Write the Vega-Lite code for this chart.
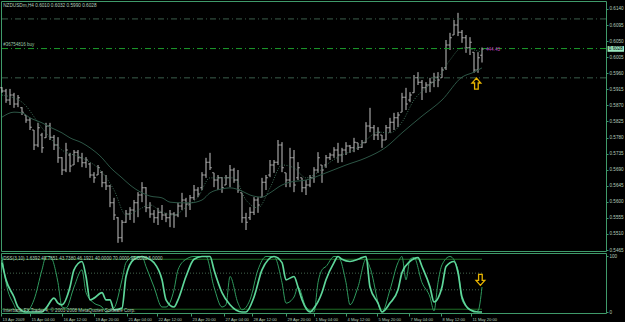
{
  "$schema": "https://vega.github.io/schema/vega-lite/v6.json",
  "background": "#000000",
  "padding": {"left": -2, "top": 0, "right": 0, "bottom": 0},
  "bounds": "flush",
  "config": {
    "view": {"stroke": "#3f9a6a", "strokeWidth": 1},
    "text": {"font": "Liberation Sans"},
    "axis": {"grid": false, "domain": false, "title": null, "labelColor": "#b5cdbd", "labelFont": "Liberation Sans", "labelFontSize": 4.6, "tickColor": "#3f9a6a", "tickSize": 2, "labelPadding": 1, "labelOverlap": false, "labelFlush": false, "labelBound": false},
    "concat": {"spacing": 2}
  },
  "datasets": {
    "bars": [
      {"i":0,"o":0.5919,"h":0.5921,"l":0.5905,"c":0.5910},
      {"i":1,"o":0.5910,"h":0.5916,"l":0.5877,"c":0.5885},
      {"i":2,"o":0.5885,"h":0.5916,"l":0.5871,"c":0.5899},
      {"i":3,"o":0.5899,"h":0.5905,"l":0.5863,"c":0.5874},
      {"i":4,"o":0.5874,"h":0.5899,"l":0.5865,"c":0.5891},
      {"i":5,"o":0.5863,"h":0.5865,"l":0.5843,"c":0.5851},
      {"i":6,"o":0.5843,"h":0.5843,"l":0.5821,"c":0.5829},
      {"i":7,"o":0.5829,"h":0.5835,"l":0.5801,"c":0.5809},
      {"i":8,"o":0.5801,"h":0.5801,"l":0.5745,"c":0.5759},
      {"i":9,"o":0.5759,"h":0.5821,"l":0.5753,"c":0.5807},
      {"i":10,"o":0.5787,"h":0.5793,"l":0.5737,"c":0.5751},
      {"i":11,"o":0.5779,"h":0.5821,"l":0.5779,"c":0.5812},
      {"i":12,"o":0.5812,"h":0.5821,"l":0.5773,"c":0.5781},
      {"i":13,"o":0.5781,"h":0.5787,"l":0.5745,"c":0.5759},
      {"i":14,"o":0.5759,"h":0.5781,"l":0.5709,"c":0.5723},
      {"i":15,"o":0.5723,"h":0.5725,"l":0.5675,"c":0.5689},
      {"i":16,"o":0.5689,"h":0.5765,"l":0.5683,"c":0.5745},
      {"i":17,"o":0.5731,"h":0.5737,"l":0.5683,"c":0.5700},
      {"i":18,"o":0.5703,"h":0.5745,"l":0.5703,"c":0.5739},
      {"i":19,"o":0.5739,"h":0.5745,"l":0.5711,"c":0.5723},
      {"i":20,"o":0.5723,"h":0.5737,"l":0.5697,"c":0.5709},
      {"i":21,"o":0.5709,"h":0.5725,"l":0.5695,"c":0.5717},
      {"i":22,"o":0.5706,"h":0.5709,"l":0.5667,"c":0.5675},
      {"i":23,"o":0.5675,"h":0.5683,"l":0.5653,"c":0.5667},
      {"i":24,"o":0.5675,"h":0.5703,"l":0.5675,"c":0.5695},
      {"i":25,"o":0.5683,"h":0.5686,"l":0.5641,"c":0.5653},
      {"i":26,"o":0.5653,"h":0.5675,"l":0.5633,"c":0.5644},
      {"i":27,"o":0.5644,"h":0.5647,"l":0.5585,"c":0.5597},
      {"i":28,"o":0.5597,"h":0.5611,"l":0.5549,"c":0.5563},
      {"i":29,"o":0.5555,"h":0.5557,"l":0.5485,"c":0.5499},
      {"i":30,"o":0.5499,"h":0.5549,"l":0.5487,"c":0.5543},
      {"i":31,"o":0.5543,"h":0.5577,"l":0.5541,"c":0.5566},
      {"i":32,"o":0.5566,"h":0.5585,"l":0.5549,"c":0.5577},
      {"i":33,"o":0.5577,"h":0.5605,"l":0.5541,"c":0.5597},
      {"i":34,"o":0.5597,"h":0.5627,"l":0.5557,"c":0.5619},
      {"i":35,"o":0.5619,"h":0.5655,"l":0.5599,"c":0.5639},
      {"i":36,"o":0.5639,"h":0.5641,"l":0.5571,"c":0.5583},
      {"i":37,"o":0.5583,"h":0.5599,"l":0.5555,"c":0.5566},
      {"i":38,"o":0.5566,"h":0.5577,"l":0.5541,"c":0.5555},
      {"i":39,"o":0.5555,"h":0.5583,"l":0.5535,"c":0.5571},
      {"i":40,"o":0.5571,"h":0.5591,"l":0.5549,"c":0.5563},
      {"i":41,"o":0.5563,"h":0.5569,"l":0.5543,"c":0.5555},
      {"i":42,"o":0.5555,"h":0.5577,"l":0.5529,"c":0.5566},
      {"i":43,"o":0.5566,"h":0.5571,"l":0.5527,"c":0.5563},
      {"i":44,"o":0.5563,"h":0.5597,"l":0.5557,"c":0.5588},
      {"i":45,"o":0.5588,"h":0.5625,"l":0.5577,"c":0.5605},
      {"i":46,"o":0.5605,"h":0.5611,"l":0.5557,"c":0.5594},
      {"i":47,"o":0.5594,"h":0.5619,"l":0.5577,"c":0.5611},
      {"i":48,"o":0.5611,"h":0.5647,"l":0.5605,"c":0.5633},
      {"i":49,"o":0.5633,"h":0.5641,"l":0.5613,"c":0.5622},
      {"i":50,"o":0.5639,"h":0.5683,"l":0.5633,"c":0.5675},
      {"i":51,"o":0.5675,"h":0.5723,"l":0.5667,"c":0.5711},
      {"i":52,"o":0.5711,"h":0.5737,"l":0.5689,"c":0.5695},
      {"i":53,"o":0.5681,"h":0.5681,"l":0.5641,"c":0.5661},
      {"i":54,"o":0.5661,"h":0.5675,"l":0.5633,"c":0.5667},
      {"i":55,"o":0.5667,"h":0.5669,"l":0.5625,"c":0.5639},
      {"i":56,"o":0.5647,"h":0.5675,"l":0.5647,"c":0.5667},
      {"i":57,"o":0.5667,"h":0.5703,"l":0.5641,"c":0.5689},
      {"i":58,"o":0.5689,"h":0.5695,"l":0.5653,"c":0.5661},
      {"i":59,"o":0.5661,"h":0.5689,"l":0.5625,"c":0.5633},
      {"i":60,"o":0.5625,"h":0.5625,"l":0.5541,"c":0.5555},
      {"i":61,"o":0.5555,"h":0.5569,"l":0.5521,"c":0.5543},
      {"i":62,"o":0.5555,"h":0.5585,"l":0.5549,"c":0.5571},
      {"i":63,"o":0.5571,"h":0.5613,"l":0.5563,"c":0.5605},
      {"i":64,"o":0.5605,"h":0.5613,"l":0.5569,"c":0.5591},
      {"i":65,"o":0.5613,"h":0.5667,"l":0.5613,"c":0.5655},
      {"i":66,"o":0.5655,"h":0.5675,"l":0.5633,"c":0.5667},
      {"i":67,"o":0.5675,"h":0.5717,"l":0.5669,"c":0.5703},
      {"i":68,"o":0.5703,"h":0.5717,"l":0.5681,"c":0.5711},
      {"i":69,"o":0.5711,"h":0.5773,"l":0.5703,"c":0.5759},
      {"i":70,"o":0.5759,"h":0.5767,"l":0.5683,"c":0.5695},
      {"i":71,"o":0.5681,"h":0.5681,"l":0.5641,"c":0.5661},
      {"i":72,"o":0.5661,"h":0.5751,"l":0.5641,"c":0.5723},
      {"i":73,"o":0.5723,"h":0.5745,"l":0.5627,"c":0.5647},
      {"i":74,"o":0.5667,"h":0.5711,"l":0.5661,"c":0.5695},
      {"i":75,"o":0.5667,"h":0.5667,"l":0.5627,"c":0.5639},
      {"i":76,"o":0.5639,"h":0.5661,"l":0.5619,"c":0.5647},
      {"i":77,"o":0.5647,"h":0.5675,"l":0.5641,"c":0.5667},
      {"i":78,"o":0.5667,"h":0.5697,"l":0.5653,"c":0.5689},
      {"i":79,"o":0.5689,"h":0.5739,"l":0.5681,"c":0.5723},
      {"i":80,"o":0.5703,"h":0.5703,"l":0.5653,"c":0.5689},
      {"i":81,"o":0.5703,"h":0.5731,"l":0.5695,"c":0.5723},
      {"i":82,"o":0.5723,"h":0.5737,"l":0.5717,"c":0.5731},
      {"i":83,"o":0.5731,"h":0.5753,"l":0.5723,"c":0.5745},
      {"i":84,"o":0.5745,"h":0.5765,"l":0.5709,"c":0.5731},
      {"i":85,"o":0.5731,"h":0.5751,"l":0.5711,"c":0.5745},
      {"i":86,"o":0.5745,"h":0.5767,"l":0.5731,"c":0.5756},
      {"i":87,"o":0.5756,"h":0.5759,"l":0.5737,"c":0.5751},
      {"i":88,"o":0.5751,"h":0.5779,"l":0.5739,"c":0.5767},
      {"i":89,"o":0.5765,"h":0.5765,"l":0.5745,"c":0.5753},
      {"i":90,"o":0.5753,"h":0.5773,"l":0.5751,"c":0.5765},
      {"i":91,"o":0.5765,"h":0.5823,"l":0.5765,"c":0.5812},
      {"i":92,"o":0.5812,"h":0.5863,"l":0.5795,"c":0.5807},
      {"i":93,"o":0.5807,"h":0.5815,"l":0.5773,"c":0.5787},
      {"i":94,"o":0.5787,"h":0.5809,"l":0.5773,"c":0.5795},
      {"i":95,"o":0.5787,"h":0.5787,"l":0.5751,"c":0.5773},
      {"i":96,"o":0.5773,"h":0.5815,"l":0.5773,"c":0.5807},
      {"i":97,"o":0.5807,"h":0.5835,"l":0.5793,"c":0.5823},
      {"i":98,"o":0.5823,"h":0.5849,"l":0.5801,"c":0.5835},
      {"i":99,"o":0.5835,"h":0.5851,"l":0.5809,"c":0.5843},
      {"i":100,"o":0.5851,"h":0.5905,"l":0.5851,"c":0.5893},
      {"i":101,"o":0.5893,"h":0.5919,"l":0.5857,"c":0.5874},
      {"i":102,"o":0.5885,"h":0.5907,"l":0.5879,"c":0.5899},
      {"i":103,"o":0.5905,"h":0.5955,"l":0.5905,"c":0.5947},
      {"i":104,"o":0.5947,"h":0.5963,"l":0.5927,"c":0.5935},
      {"i":105,"o":0.5935,"h":0.5941,"l":0.5885,"c":0.5919},
      {"i":106,"o":0.5919,"h":0.5935,"l":0.5905,"c":0.5927},
      {"i":107,"o":0.5927,"h":0.5947,"l":0.5907,"c":0.5935},
      {"i":108,"o":0.5935,"h":0.5961,"l":0.5921,"c":0.5949},
      {"i":109,"o":0.5949,"h":0.5963,"l":0.5921,"c":0.5941},
      {"i":110,"o":0.5947,"h":0.5977,"l":0.5947,"c":0.5969},
      {"i":111,"o":0.5975,"h":0.6053,"l":0.5969,"c":0.6039},
      {"i":112,"o":0.6039,"h":0.6073,"l":0.6025,"c":0.6059},
      {"i":113,"o":0.6067,"h":0.6109,"l":0.6067,"c":0.6095},
      {"i":114,"o":0.6095,"h":0.6129,"l":0.6064,"c":0.6075},
      {"i":115,"o":0.6075,"h":0.6081,"l":0.6045,"c":0.6059},
      {"i":116,"o":0.6059,"h":0.6067,"l":0.6017,"c":0.6031},
      {"i":117,"o":0.6031,"h":0.6061,"l":0.6011,"c":0.6047},
      {"i":118,"o":0.6019,"h":0.6019,"l":0.5961,"c":0.5969},
      {"i":119,"o":0.5969,"h":0.6019,"l":0.5961,"c":0.6003},
      {"i":120,"o":0.6010,"h":0.6032,"l":0.5990,"c":0.6028}
    ],
    "maSlow": [
      {"i":0,"v":0.5837},{"i":3,"v":0.5851},{"i":5,"v":0.5849},{"i":7,"v":0.5835},{"i":10,"v":0.5821},{"i":12,"v":0.5809},{"i":15,"v":0.5793},{"i":17,"v":0.5779},{"i":20,"v":0.5765},{"i":22,"v":0.5751},{"i":25,"v":0.5723},{"i":27,"v":0.5697},{"i":30,"v":0.5667},{"i":32,"v":0.5647},{"i":35,"v":0.5625},{"i":37,"v":0.5616},{"i":40,"v":0.5611},{"i":42,"v":0.5599},{"i":45,"v":0.5597},{"i":47,"v":0.5597},{"i":50,"v":0.5605},{"i":52,"v":0.5625},{"i":55,"v":0.5636},{"i":57,"v":0.5639},{"i":60,"v":0.5630},{"i":62,"v":0.5619},{"i":65,"v":0.5613},{"i":67,"v":0.5625},{"i":70,"v":0.5647},{"i":72,"v":0.5655},{"i":76,"v":0.5661},{"i":81,"v":0.5681},{"i":86,"v":0.5703},{"i":91,"v":0.5723},{"i":96,"v":0.5753},{"i":100,"v":0.5793},{"i":105,"v":0.5840},{"i":110,"v":0.5885},{"i":115,"v":0.5949},{"i":118,"v":0.5963},{"i":120,"v":0.5975}
    ],
    "maFast": [
      {"i":0,"v":0.5899},{"i":5,"v":0.5879},{"i":10,"v":0.5807},{"i":15,"v":0.5745},{"i":20,"v":0.5723},{"i":25,"v":0.5683},{"i":28,"v":0.5633},{"i":31,"v":0.5563},{"i":34,"v":0.5577},{"i":37,"v":0.5591},{"i":40,"v":0.5571},{"i":43,"v":0.5563},{"i":46,"v":0.5585},{"i":49,"v":0.5613},{"i":52,"v":0.5667},{"i":55,"v":0.5667},{"i":58,"v":0.5667},{"i":61,"v":0.5605},{"i":64,"v":0.5583},{"i":67,"v":0.5639},{"i":70,"v":0.5703},{"i":73,"v":0.5695},{"i":76,"v":0.5667},{"i":79,"v":0.5683},{"i":82,"v":0.5711},{"i":85,"v":0.5731},{"i":88,"v":0.5745},{"i":91,"v":0.5773},{"i":94,"v":0.5795},{"i":97,"v":0.5793},{"i":100,"v":0.5823},{"i":103,"v":0.5885},{"i":106,"v":0.5919},{"i":109,"v":0.5947},{"i":112,"v":0.5997},{"i":115,"v":0.6031},{"i":118,"v":0.6025},{"i":120,"v":0.6019}
    ],
    "dssA": [
      {"i":0,"v":89},{"i":1,"v":58},{"i":3,"v":27},{"i":4,"v":9},{"i":6,"v":0},{"i":8,"v":0},{"i":10,"v":0},{"i":11,"v":7},{"i":13,"v":25},{"i":14,"v":16},{"i":15,"v":13},{"i":17,"v":45},{"i":18,"v":76},{"i":20,"v":91},{"i":21,"v":64},{"i":22,"v":22},{"i":23,"v":25},{"i":25,"v":35},{"i":26,"v":22},{"i":27,"v":22},{"i":28,"v":4},{"i":30,"v":7},{"i":31,"v":64},{"i":33,"v":95},{"i":35,"v":100},{"i":36,"v":98},{"i":38,"v":89},{"i":40,"v":58},{"i":41,"v":22},{"i":43,"v":9},{"i":44,"v":22},{"i":46,"v":64},{"i":48,"v":95},{"i":50,"v":100},{"i":52,"v":100},{"i":53,"v":76},{"i":55,"v":35},{"i":57,"v":13},{"i":60,"v":0},{"i":61,"v":0},{"i":63,"v":27},{"i":65,"v":76},{"i":68,"v":100},{"i":70,"v":89},{"i":71,"v":58},{"i":73,"v":64},{"i":74,"v":45},{"i":75,"v":22},{"i":77,"v":0},{"i":78,"v":7},{"i":80,"v":35},{"i":81,"v":58},{"i":83,"v":89},{"i":84,"v":100},{"i":85,"v":95},{"i":87,"v":91},{"i":89,"v":95},{"i":90,"v":98},{"i":91,"v":100},{"i":92,"v":45},{"i":94,"v":16},{"i":95,"v":0},{"i":97,"v":16},{"i":99,"v":40},{"i":100,"v":71},{"i":102,"v":91},{"i":104,"v":98},{"i":105,"v":82},{"i":107,"v":45},{"i":108,"v":18},{"i":110,"v":45},{"i":111,"v":82},{"i":113,"v":91},{"i":114,"v":71},{"i":115,"v":27},{"i":117,"v":4},{"i":119,"v":0},{"i":120,"v":0}
    ],
    "dssB": [
      {"i":0,"v":100},{"i":1,"v":53},{"i":3,"v":13},{"i":4,"v":0},{"i":6,"v":0},{"i":8,"v":22},{"i":10,"v":76},{"i":11,"v":100},{"i":12,"v":100},{"i":14,"v":53},{"i":15,"v":9},{"i":16,"v":7},{"i":18,"v":45},{"i":20,"v":76},{"i":21,"v":35},{"i":23,"v":16},{"i":25,"v":9},{"i":26,"v":0},{"i":28,"v":7},{"i":30,"v":58},{"i":31,"v":89},{"i":33,"v":100},{"i":35,"v":100},{"i":36,"v":82},{"i":38,"v":45},{"i":40,"v":9},{"i":41,"v":9},{"i":43,"v":40},{"i":44,"v":76},{"i":46,"v":95},{"i":48,"v":100},{"i":50,"v":100},{"i":51,"v":100},{"i":53,"v":45},{"i":55,"v":9},{"i":56,"v":13},{"i":57,"v":64},{"i":59,"v":16},{"i":60,"v":4},{"i":62,"v":22},{"i":64,"v":76},{"i":66,"v":100},{"i":68,"v":100},{"i":70,"v":53},{"i":71,"v":16},{"i":73,"v":27},{"i":74,"v":45},{"i":76,"v":9},{"i":78,"v":0},{"i":79,"v":53},{"i":80,"v":76},{"i":81,"v":82},{"i":83,"v":100},{"i":84,"v":100},{"i":86,"v":53},{"i":87,"v":13},{"i":89,"v":45},{"i":91,"v":95},{"i":92,"v":80},{"i":95,"v":0},{"i":97,"v":40},{"i":99,"v":89},{"i":100,"v":100},{"i":101,"v":58},{"i":102,"v":95},{"i":103,"v":98},{"i":105,"v":53},{"i":107,"v":27},{"i":108,"v":2},{"i":109,"v":53},{"i":110,"v":85},{"i":112,"v":100},{"i":114,"v":76},{"i":115,"v":22},{"i":117,"v":4},{"i":118,"v":0},{"i":119,"v":2},{"i":120,"v":45}
    ],
    "one": [{"k": 1}]
  },
  "vconcat": [
    {
      "width": 605,
      "height": 250,
      "layer": [
        {
          "data": {"name": "bars"},
          "mark": {"type": "rule", "strokeWidth": 1, "color": "#c4c4c4"},
          "encoding": {
            "x": {"field": "i", "type": "quantitative", "scale": {"domain": [-0.25, 151], "nice": false, "zero": false}, "axis": null},
            "y": {"field": "l", "type": "quantitative", "title": null, "scale": {"domain": [0.54622, 0.61622], "nice": false, "zero": false},
                  "axis": {"orient": "right", "title": null, "tickCount": 40, "labelOverlap": false, "labelBound": false, "values": [0.5465,0.551,0.5555,0.56,0.5645,0.569,0.5735,0.578,0.5825,0.587,0.5915,0.596,0.6005,0.605,0.6095,0.614], "format": ".4f"}},
            "y2": {"field": "h"}
          }
        },
        {
          "data": {"name": "bars"},
          "mark": {"type": "tick", "orient": "horizontal", "size": 2, "thickness": 1, "xOffset": -1, "color": "#c4c4c4"},
          "encoding": {
            "x": {"field": "i", "type": "quantitative", "scale": {"domain": [-0.25, 151], "nice": false, "zero": false}, "axis": null},
            "y": {"field": "o", "type": "quantitative", "title": null, "scale": {"domain": [0.54622, 0.61622], "nice": false, "zero": false}}
          }
        },
        {
          "data": {"name": "bars"},
          "mark": {"type": "tick", "orient": "horizontal", "size": 2, "thickness": 1, "xOffset": 1, "color": "#c4c4c4"},
          "encoding": {
            "x": {"field": "i", "type": "quantitative", "scale": {"domain": [-0.25, 151], "nice": false, "zero": false}, "axis": null},
            "y": {"field": "c", "type": "quantitative", "title": null, "scale": {"domain": [0.54622, 0.61622], "nice": false, "zero": false}}
          }
        },
        {
          "data": {"name": "maSlow"},
          "mark": {"type": "line", "color": "#2d5646", "strokeWidth": 1, "interpolate": "monotone"},
          "encoding": {
            "x": {"field": "i", "type": "quantitative", "scale": {"domain": [-0.25, 151], "nice": false, "zero": false}, "axis": null},
            "y": {"field": "v", "type": "quantitative", "title": null, "scale": {"domain": [0.54622, 0.61622], "nice": false, "zero": false}}
          }
        },
        {
          "data": {"name": "maFast"},
          "mark": {"type": "line", "color": "#3d6e58", "strokeWidth": 1, "strokeDash": [1, 1.5], "interpolate": "monotone"},
          "encoding": {
            "x": {"field": "i", "type": "quantitative", "scale": {"domain": [-0.25, 151], "nice": false, "zero": false}, "axis": null},
            "y": {"field": "v", "type": "quantitative", "title": null, "scale": {"domain": [0.54622, 0.61622], "nice": false, "zero": false}}
          }
        },
        {
          "data": {"values": [{"p": 0.6112}, {"p": 0.5947}]},
          "mark": {"type": "rule", "color": "#3b5e4c", "strokeWidth": 1, "strokeDash": [6, 3, 1, 3]},
          "encoding": {
            "y": {"field": "p", "type": "quantitative", "title": null, "scale": {"domain": [0.54622, 0.61622], "nice": false, "zero": false}}
          }
        },
        {
          "data": {"values": [{"p": 0.6029}]},
          "mark": {"type": "rule", "color": "#1c9c2c", "strokeWidth": 1, "strokeDash": [6, 3, 1, 3]},
          "encoding": {
            "y": {"field": "p", "type": "quantitative", "title": null, "scale": {"domain": [0.54622, 0.61622], "nice": false, "zero": false}}
          }
        },
        {
          "data": {"values": [{"i": 118.6, "p": 0.5931}]},
          "mark": {"type": "point", "shape": "M0,-1 L-0.8,-0.1 L-0.33,-0.1 L-0.33,1 L0.33,1 L0.33,-0.1 L0.8,-0.1 Z", "size": 121, "filled": false, "fill": "#000000", "fillOpacity": 1, "stroke": "#e8b400", "strokeWidth": 1.3, "opacity": 1},
          "encoding": {
            "x": {"field": "i", "type": "quantitative", "scale": {"domain": [-0.25, 151], "nice": false, "zero": false}, "axis": null},
            "y": {"field": "p", "type": "quantitative", "title": null, "scale": {"domain": [0.54622, 0.61622], "nice": false, "zero": false}}
          }
        },
        {
          "data": {"name": "one"},
          "mark": {"type": "text", "align": "left", "baseline": "middle", "fontSize": 4.7, "color": "#b5cdbd"},
          "encoding": {
            "x": {"datum": 0.3, "scale": {"domain": [-0.25, 151], "nice": false, "zero": false}, "axis": null},
            "y": {"datum": 0.6148, "scale": {"domain": [0.54622, 0.61622], "nice": false, "zero": false}},
            "text": {"value": "NZDUSDm,H4  0.6010 0.6032 0.5990 0.6028"}
          }
        },
        {
          "data": {"name": "one"},
          "mark": {"type": "text", "align": "left", "baseline": "middle", "fontSize": 4.5, "color": "#9cc7a8"},
          "encoding": {
            "x": {"datum": 0.3, "scale": {"domain": [-0.25, 151], "nice": false, "zero": false}, "axis": null},
            "y": {"datum": 0.6039, "scale": {"domain": [0.54622, 0.61622], "nice": false, "zero": false}},
            "text": {"value": "#36754816 buy"}
          }
        },
        {
          "data": {"name": "one"},
          "mark": {"type": "text", "align": "left", "baseline": "middle", "fontSize": 4.6, "color": "#c040c0"},
          "encoding": {
            "x": {"datum": 121, "scale": {"domain": [-0.25, 151], "nice": false, "zero": false}, "axis": null},
            "y": {"datum": 0.6026, "scale": {"domain": [0.54622, 0.61622], "nice": false, "zero": false}},
            "text": {"value": "444.43"}
          }
        },
        {
          "data": {"name": "one"},
          "mark": {"type": "rect", "color": "#9be8c0", "clip": false},
          "encoding": {
            "x": {"datum": 151.4, "scale": {"domain": [-0.25, 151], "nice": false, "zero": false}, "axis": null},
            "x2": {"datum": 155.5},
            "y": {"datum": 0.6036, "scale": {"domain": [0.54622, 0.61622], "nice": false, "zero": false}},
            "y2": {"datum": 0.6020}
          }
        },
        {
          "data": {"name": "one"},
          "mark": {"type": "text", "align": "left", "baseline": "middle", "fontSize": 4.6, "color": "#000000", "clip": false},
          "encoding": {
            "x": {"datum": 151.7, "scale": {"domain": [-0.25, 151], "nice": false, "zero": false}, "axis": null},
            "y": {"datum": 0.6028, "scale": {"domain": [0.54622, 0.61622], "nice": false, "zero": false}},
            "text": {"value": "0.6028"}
          }
        }
      ]
    },
    {
      "width": 605,
      "height": 60,
      "layer": [
        {
          "data": {"values": [{"lv": 95}, {"lv": 5}]},
          "mark": {"type": "rule", "color": "#1f6e26", "strokeWidth": 1},
          "encoding": {
            "x": {"datum": -0.25, "type": "quantitative", "scale": {"domain": [-0.25, 151], "nice": false, "zero": false},
                  "axis": {"orient": "bottom", "title": null, "tickCount": 40, "tickSize": 3, "labelAlign": "left", "labelOffset": 1, "labelFontSize": 4.1, "labelOverlap": false, "labelBound": false, "labelFlush": false,
                           "values": [-0.25, 7, 15, 23, 31.25, 38.75, 47.25, 55.5, 62.5, 71, 78, 86, 93.75, 101.75, 109.75, 117.25],
                           "labelExpr": "['13 Apr 2009','15 Apr 04:00','16 Apr 12:00','19 Apr 20:00','21 Apr 04:00','22 Apr 12:00','23 Apr 20:00','27 Apr 04:00','28 Apr 12:00','29 Apr 20:00','1 May 04:00','4 May 12:00','5 May 20:00','7 May 04:00','8 May 12:00','11 May 20:00'][indexof([-0.25, 7, 15, 23, 31.25, 38.75, 47.25, 55.5, 62.5, 71, 78, 86, 93.75, 101.75, 109.75, 117.25], datum.value)]"}},
            "x2": {"datum": 120},
            "y": {"field": "lv", "type": "quantitative", "title": null, "scale": {"domain": [-1.8, 106.3], "nice": false, "zero": false},
                  "axis": {"orient": "right", "title": null, "tickCount": 10, "labelOverlap": false, "values": [0, 100], "format": "d"}}
          }
        },
        {
          "data": {"values": [{"lv": 70}, {"lv": 40}]},
          "mark": {"type": "rule", "color": "#43664f", "strokeWidth": 1, "strokeDash": [1, 2]},
          "encoding": {
            "x": {"datum": -0.25, "type": "quantitative", "scale": {"domain": [-0.25, 151], "nice": false, "zero": false}},
            "x2": {"datum": 120},
            "y": {"field": "lv", "type": "quantitative", "title": null, "scale": {"domain": [-1.8, 106.3], "nice": false, "zero": false}}
          }
        },
        {
          "data": {"name": "dssB"},
          "mark": {"type": "line", "color": "#2f9a5e", "strokeWidth": 1, "interpolate": "monotone"},
          "encoding": {
            "x": {"field": "i", "type": "quantitative", "title": null, "scale": {"domain": [-0.25, 151], "nice": false, "zero": false}},
            "y": {"field": "v", "type": "quantitative", "title": null, "scale": {"domain": [-1.8, 106.3], "nice": false, "zero": false}}
          }
        },
        {
          "data": {"name": "dssA"},
          "mark": {"type": "line", "color": "#5ed69a", "strokeWidth": 1.7, "interpolate": "monotone"},
          "encoding": {
            "x": {"field": "i", "type": "quantitative", "title": null, "scale": {"domain": [-0.25, 151], "nice": false, "zero": false}},
            "y": {"field": "v", "type": "quantitative", "title": null, "scale": {"domain": [-1.8, 106.3], "nice": false, "zero": false}}
          }
        },
        {
          "data": {"values": [{"i": 119.6, "v": 58}]},
          "mark": {"type": "point", "shape": "M0,1 L-0.8,0.1 L-0.33,0.1 L-0.33,-1 L0.33,-1 L0.33,0.1 L0.8,0.1 Z", "size": 121, "filled": false, "fill": "#000000", "fillOpacity": 1, "stroke": "#e8b400", "strokeWidth": 1.3, "opacity": 1},
          "encoding": {
            "x": {"field": "i", "type": "quantitative", "title": null, "scale": {"domain": [-0.25, 151], "nice": false, "zero": false}},
            "y": {"field": "v", "type": "quantitative", "title": null, "scale": {"domain": [-1.8, 106.3], "nice": false, "zero": false}}
          }
        },
        {
          "data": {"name": "one"},
          "mark": {"type": "text", "align": "left", "baseline": "middle", "fontSize": 4.6, "color": "#b5cdbd"},
          "encoding": {
            "x": {"datum": 0.3, "scale": {"domain": [-0.25, 151], "nice": false, "zero": false}},
            "y": {"datum": 94.6, "scale": {"domain": [-1.8, 106.3], "nice": false, "zero": false}},
            "text": {"value": "DSS(3,10) 1.6392 49.7651 43.7380 46.1921 40.0000 70.0000 95.0000 5.0000"}
          }
        },
        {
          "data": {"name": "one"},
          "mark": {"type": "text", "align": "left", "baseline": "middle", "fontSize": 4.6, "color": "#b5cdbd"},
          "encoding": {
            "x": {"datum": 0.3, "scale": {"domain": [-0.25, 151], "nice": false, "zero": false}},
            "y": {"datum": 2.7, "scale": {"domain": [-1.8, 106.3], "nice": false, "zero": false}},
            "text": {"value": "Interbank FX Trader 4, © 2001-2008 MetaQuotes Software Corp."}
          }
        }
      ]
    }
  ]
}
